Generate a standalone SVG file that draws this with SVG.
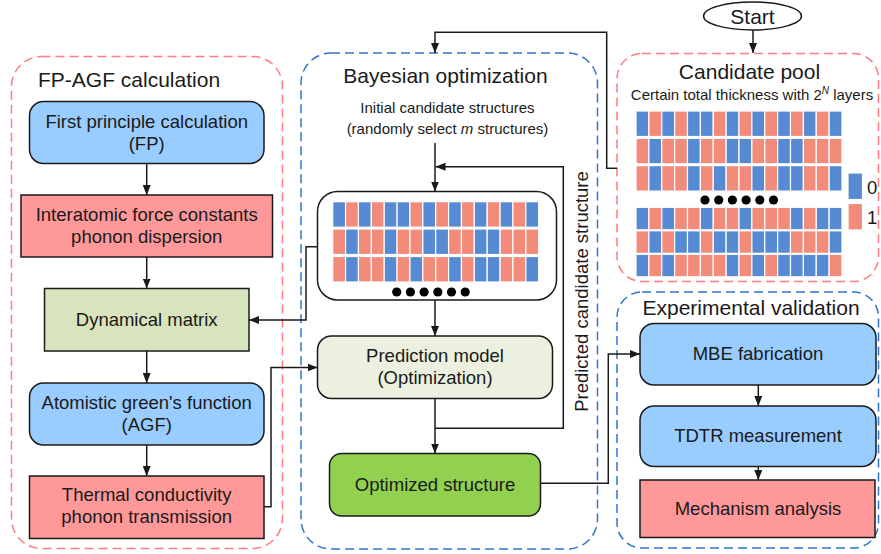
<svg xmlns="http://www.w3.org/2000/svg" xmlns:xlink="http://www.w3.org/1999/xlink" width="881" height="554" viewBox="0 0 881 554">
<style>
text{font-family:"Liberation Sans",Arial,sans-serif;fill:#1a1a1a}
.title{font-size:21px}
.lbl{font-size:18.5px;text-anchor:middle}
.sm{font-size:15px;text-anchor:middle}
.box{stroke:#1a1a1a;stroke-width:1.5}
.blue{fill:#99CCFF}
.red{fill:#FF9999}
.grp-pink{fill:none;stroke:#FF7C80;stroke-width:1.5;stroke-dasharray:9 5}
.grp-blue{fill:none;stroke:#2F75D0;stroke-width:1.5;stroke-dasharray:9 5}
.cb{fill:#568BD3;stroke:#fff;stroke-width:1.2}
.cr{fill:#F28B7A;stroke:#fff;stroke-width:1.2}
.con{fill:none;stroke:#1a1a1a;stroke-width:1.5}
.arr{marker-end:url(#ah)}
.dot{fill:#000}
</style>
<defs>
<marker id="ah" viewBox="0 0 10 8" refX="10" refY="4" markerWidth="10" markerHeight="8" markerUnits="userSpaceOnUse" orient="auto"><path d="M0,0 L10,4 L0,8 z" fill="#1a1a1a"/></marker>
<g id="rowA"><rect class="cb" x="0" width="12.875" height="25.5"/><rect class="cr" x="12.875" width="12.875" height="25.5"/><rect class="cb" x="25.75" width="12.875" height="25.5"/><rect class="cr" x="38.625" width="12.875" height="25.5"/><rect class="cb" x="51.5" width="12.875" height="25.5"/><rect class="cb" x="64.375" width="12.875" height="25.5"/><rect class="cr" x="77.25" width="12.875" height="25.5"/><rect class="cb" x="90.125" width="12.875" height="25.5"/><rect class="cr" x="103" width="12.875" height="25.5"/><rect class="cb" x="115.875" width="12.875" height="25.5"/><rect class="cr" x="128.75" width="12.875" height="25.5"/><rect class="cb" x="141.625" width="12.875" height="25.5"/><rect class="cr" x="154.5" width="12.875" height="25.5"/><rect class="cb" x="167.375" width="12.875" height="25.5"/><rect class="cr" x="180.25" width="12.875" height="25.5"/><rect class="cb" x="193.125" width="12.875" height="25.5"/></g>
<g id="rowB"><rect class="cr" x="0" width="12.875" height="25.5"/><rect class="cb" x="12.875" width="12.875" height="25.5"/><rect class="cr" x="25.75" width="12.875" height="25.5"/><rect class="cr" x="38.625" width="12.875" height="25.5"/><rect class="cb" x="51.5" width="12.875" height="25.5"/><rect class="cr" x="64.375" width="12.875" height="25.5"/><rect class="cr" x="77.25" width="12.875" height="25.5"/><rect class="cb" x="90.125" width="12.875" height="25.5"/><rect class="cb" x="103" width="12.875" height="25.5"/><rect class="cr" x="115.875" width="12.875" height="25.5"/><rect class="cr" x="128.75" width="12.875" height="25.5"/><rect class="cb" x="141.625" width="12.875" height="25.5"/><rect class="cb" x="154.5" width="12.875" height="25.5"/><rect class="cr" x="167.375" width="12.875" height="25.5"/><rect class="cr" x="180.25" width="12.875" height="25.5"/><rect class="cr" x="193.125" width="12.875" height="25.5"/></g>
<g id="rowC"><rect class="cr" x="0" width="12.875" height="25.5"/><rect class="cb" x="12.875" width="12.875" height="25.5"/><rect class="cr" x="25.75" width="12.875" height="25.5"/><rect class="cr" x="38.625" width="12.875" height="25.5"/><rect class="cb" x="51.5" width="12.875" height="25.5"/><rect class="cr" x="64.375" width="12.875" height="25.5"/><rect class="cb" x="77.25" width="12.875" height="25.5"/><rect class="cr" x="90.125" width="12.875" height="25.5"/><rect class="cr" x="103" width="12.875" height="25.5"/><rect class="cb" x="115.875" width="12.875" height="25.5"/><rect class="cr" x="128.75" width="12.875" height="25.5"/><rect class="cb" x="141.625" width="12.875" height="25.5"/><rect class="cb" x="154.5" width="12.875" height="25.5"/><rect class="cr" x="167.375" width="12.875" height="25.5"/><rect class="cr" x="180.25" width="12.875" height="25.5"/><rect class="cb" x="193.125" width="12.875" height="25.5"/></g>
<g id="rowD"><rect class="cb" x="0" width="12.875" height="22.5"/><rect class="cr" x="12.875" width="12.875" height="22.5"/><rect class="cb" x="25.75" width="12.875" height="22.5"/><rect class="cr" x="38.625" width="12.875" height="22.5"/><rect class="cr" x="51.5" width="12.875" height="22.5"/><rect class="cb" x="64.375" width="12.875" height="22.5"/><rect class="cr" x="77.25" width="12.875" height="22.5"/><rect class="cr" x="90.125" width="12.875" height="22.5"/><rect class="cb" x="103" width="12.875" height="22.5"/><rect class="cr" x="115.875" width="12.875" height="22.5"/><rect class="cr" x="128.75" width="12.875" height="22.5"/><rect class="cr" x="141.625" width="12.875" height="22.5"/><rect class="cb" x="154.5" width="12.875" height="22.5"/><rect class="cr" x="167.375" width="12.875" height="22.5"/><rect class="cb" x="180.25" width="12.875" height="22.5"/><rect class="cb" x="193.125" width="12.875" height="22.5"/></g>
<g id="rowE"><rect class="cr" x="0" width="12.875" height="22.5"/><rect class="cb" x="12.875" width="12.875" height="22.5"/><rect class="cr" x="25.75" width="12.875" height="22.5"/><rect class="cb" x="38.625" width="12.875" height="22.5"/><rect class="cb" x="51.5" width="12.875" height="22.5"/><rect class="cr" x="64.375" width="12.875" height="22.5"/><rect class="cb" x="77.25" width="12.875" height="22.5"/><rect class="cb" x="90.125" width="12.875" height="22.5"/><rect class="cr" x="103" width="12.875" height="22.5"/><rect class="cb" x="115.875" width="12.875" height="22.5"/><rect class="cb" x="128.75" width="12.875" height="22.5"/><rect class="cb" x="141.625" width="12.875" height="22.5"/><rect class="cr" x="154.5" width="12.875" height="22.5"/><rect class="cr" x="167.375" width="12.875" height="22.5"/><rect class="cr" x="180.25" width="12.875" height="22.5"/><rect class="cb" x="193.125" width="12.875" height="22.5"/></g>
<g id="rowF"><rect class="cb" x="0" width="12.875" height="22.5"/><rect class="cr" x="12.875" width="12.875" height="22.5"/><rect class="cb" x="25.75" width="12.875" height="22.5"/><rect class="cr" x="38.625" width="12.875" height="22.5"/><rect class="cr" x="51.5" width="12.875" height="22.5"/><rect class="cr" x="64.375" width="12.875" height="22.5"/><rect class="cr" x="77.25" width="12.875" height="22.5"/><rect class="cb" x="90.125" width="12.875" height="22.5"/><rect class="cr" x="103" width="12.875" height="22.5"/><rect class="cb" x="115.875" width="12.875" height="22.5"/><rect class="cr" x="128.75" width="12.875" height="22.5"/><rect class="cb" x="141.625" width="12.875" height="22.5"/><rect class="cb" x="154.5" width="12.875" height="22.5"/><rect class="cb" x="167.375" width="12.875" height="22.5"/><rect class="cb" x="180.25" width="12.875" height="22.5"/><rect class="cr" x="193.125" width="12.875" height="22.5"/></g>
<g id="dots"><circle class="dot" cx="0" cy="0" r="4.6"/><circle class="dot" cx="13.7" cy="0" r="4.6"/><circle class="dot" cx="27.4" cy="0" r="4.6"/><circle class="dot" cx="41.1" cy="0" r="4.6"/><circle class="dot" cx="54.8" cy="0" r="4.6"/><circle class="dot" cx="68.5" cy="0" r="4.6"/></g>
</defs>
<rect width="881" height="554" fill="#fff"/>

<!-- group frames -->
<g id="grp-fpagf">
<rect class="grp-pink" x="11.5" y="56.5" width="271" height="492" rx="30"/>
<text class="title" x="38" y="87">FP-AGF calculation</text>
</g>
<g id="grp-bayes">
<rect class="grp-blue" x="301" y="53" width="296.5" height="496" rx="30"/>
<text class="title" x="445.5" y="83" text-anchor="middle">Bayesian optimization</text>
<text class="sm" x="447.5" y="113">Initial candidate structures</text>
<text class="sm" x="447.5" y="133.5">(randomly select <tspan font-style="italic">m</tspan> structures)</text>
</g>
<g id="grp-pool">
<rect class="grp-pink" x="617" y="53.5" width="261.5" height="228" rx="25"/>
<text class="title" x="749.5" y="79" text-anchor="middle">Candidate pool</text>
<text class="sm" x="752" y="100">Certain total thickness with 2<tspan dy="-6" font-size="10" font-style="italic">N</tspan><tspan dy="6"> layers</tspan></text>
</g>
<g id="grp-exp">
<rect class="grp-blue" x="617" y="292" width="261.5" height="256" rx="25"/>
<text class="title" x="642.5" y="315">Experimental validation</text>
</g>

<!-- nodes -->
<g id="start">
<ellipse cx="752.5" cy="16" rx="49" ry="14" fill="#fff" stroke="#1a1a1a" stroke-width="1.5"/>
<text x="752.5" y="23.5" text-anchor="middle" font-size="21">Start</text>
</g>
<g id="fp">
<rect class="box blue" x="29.5" y="101.5" width="234.5" height="62" rx="14"/>
<text class="lbl" x="146.7" y="127.5">First principle calculation</text>
<text class="lbl" x="146.7" y="149.5">(FP)</text>
</g>
<g id="ifc">
<rect class="box red" x="21" y="195" width="251.5" height="62"/>
<text class="lbl" x="146.7" y="221">Interatomic force constants</text>
<text class="lbl" x="146.7" y="243">phonon dispersion</text>
</g>
<g id="dyn">
<rect class="box" fill="#D7E4BD" x="44.5" y="288.5" width="204.5" height="62.5"/>
<text class="lbl" x="146.7" y="325.5">Dynamical matrix</text>
</g>
<g id="agf">
<rect class="box blue" x="29.5" y="383" width="234.5" height="62" rx="14"/>
<text class="lbl" x="146.7" y="409">Atomistic green's function</text>
<text class="lbl" x="146.7" y="431">(AGF)</text>
</g>
<g id="tc">
<rect class="box red" x="29.5" y="476" width="234.5" height="62.5"/>
<text class="lbl" x="146.7" y="501">Thermal conductivity</text>
<text class="lbl" x="146.7" y="523">phonon transmission</text>
</g>
<g id="pool-grid">
<use href="#rowA" x="636" y="111"/>
<use href="#rowB" x="636" y="138.3"/>
<use href="#rowC" x="636" y="165.6"/>
<use href="#dots" x="705" y="200"/>
<use href="#rowD" x="636" y="207.3"/>
<use href="#rowE" x="636" y="230.8"/>
<use href="#rowF" x="636" y="254.3"/>
</g>
<g id="legend">
<rect class="cb" x="848" y="173" width="14.5" height="26.5" stroke="none"/>
<rect class="cr" x="848" y="203.5" width="14.5" height="26.5" stroke="none"/>
<text x="867" y="193.5" font-size="18.5">0</text>
<text x="867" y="223.5" font-size="18.5">1</text>
</g>
<g id="cand">
<rect x="317.5" y="191.5" width="239" height="108.5" rx="20" fill="#fff" stroke="#1a1a1a" stroke-width="1.5"/>
<use href="#rowA" x="332.7" y="201.7"/>
<use href="#rowB" x="332.7" y="229"/>
<use href="#rowC" x="332.7" y="256.5"/>
<use href="#dots" x="396.7" y="292"/>
</g>
<g id="pred">
<rect class="box" fill="#EBF1DE" x="317.5" y="336" width="235" height="62.5" rx="14"/>
<text class="lbl" x="435" y="361.5">Prediction model</text>
<text class="lbl" x="435" y="383.5">(Optimization)</text>
</g>
<g id="opt">
<rect class="box" fill="#92D050" x="329.5" y="453.5" width="211" height="62.5" rx="12"/>
<text class="lbl" x="435" y="491">Optimized structure</text>
</g>
<g id="mbe">
<rect class="box blue" x="640" y="323.5" width="236" height="61.5" rx="14"/>
<text class="lbl" x="758" y="360">MBE fabrication</text>
</g>
<g id="tdtr">
<rect class="box blue" x="640" y="406" width="236" height="60.5" rx="14"/>
<text class="lbl" x="758" y="442">TDTR measurement</text>
</g>
<g id="mech">
<rect class="box red" x="640" y="480" width="235" height="57.5"/>
<text class="lbl" x="758" y="515">Mechanism analysis</text>
</g>
<g id="pcs-label">
<text x="588" y="291.5" font-size="18.5" text-anchor="middle" transform="rotate(-90 588 291.5)">Predicted candidate structure</text>
</g>

<!-- connectors -->
<g id="connectors">
<path class="con arr" d="M753,30 V53"/>
<path class="con arr" d="M617,168.3 H606.7 V32.3 H435 V53"/>
<path class="con arr" d="M435,143 V191.5"/>
<path class="con arr" d="M435,428.3 H563.3 V166.7 H435.5"/>
<path class="con arr" d="M317.5,246.7 H306 V320 H249"/>
<path class="con arr" d="M435,300 V336"/>
<path class="con arr" d="M435,398.5 V453.5"/>
<path class="con arr" d="M264,506.7 H271 V367.5 H317.5"/>
<path class="con arr" d="M540.5,483.3 H608.3 V354 H640"/>
<path class="con arr" d="M146.7,163.5 V195"/>
<path class="con arr" d="M146.7,257 V288.5"/>
<path class="con arr" d="M146.7,351 V383"/>
<path class="con arr" d="M146.7,445 V476"/>
<path class="con arr" d="M758.3,385 V406"/>
<path class="con arr" d="M758.3,466.5 V480"/>
</g>
</svg>
